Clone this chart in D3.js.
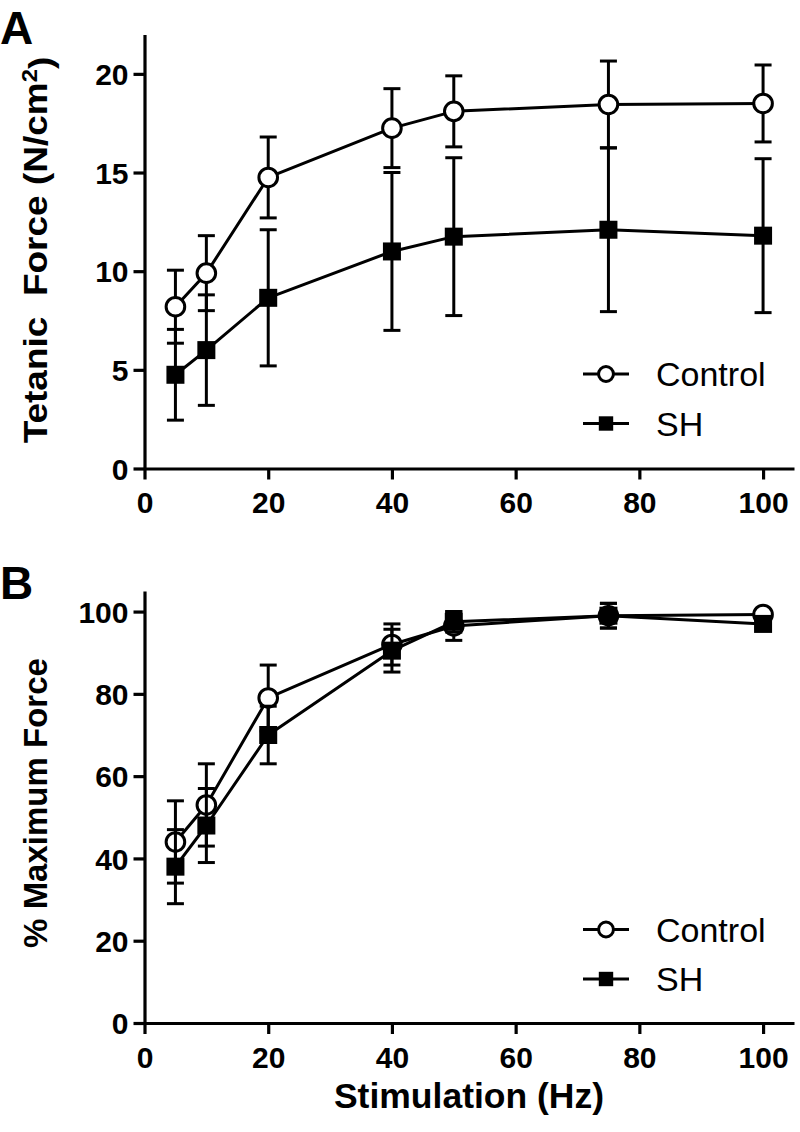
<!DOCTYPE html>
<html>
<head>
<meta charset="utf-8">
<script src="https://cdn.jsdelivr.net/npm/d3@7"></script>
<style>
  html, body { margin: 0; padding: 0; background: #fff; }
  svg { display: block; }
  text { font-family: "Liberation Sans", Arial, sans-serif; fill: #000; }
</style>
</head>
<body>
<svg id="chart" width="800" height="1132"></svg>
<script>
// ---- Data ----
const freq = [5, 10, 20, 40, 50, 75, 100];
const xTicks = [0, 20, 40, 60, 80, 100];

const forceControl = [8.2, 9.9, 14.75, 17.25, 18.1, 18.45, 18.5];
const forceControlErr = [1.85, 1.9, 2.05, 2.0, 1.8, 2.2, 1.95];
const forceSH = [4.75, 6.0, 8.65, 11.0, 11.75, 12.1, 11.8];
const forceSHErr = [2.3, 2.8, 3.45, 4.0, 4.0, 4.15, 3.9];
const forceTicks = [0, 5, 10, 15, 20];

const pctControl = [44, 53, 79, 92, 96.5, 99, 99.3];
const pctControlErr = [10, 10, 8, 5, 3.5, 3, 0.8];
const pctSH = [38, 48, 70, 90.5, 97.5, 99, 97];
const pctSHErr = [9, 9, 7, 5.2, 2.5, 3, 1];
const pctTicks = [0, 20, 40, 60, 80, 100];

const seriesNames = ["Control", "SH"];

// ---- Drawing ----
const svg = d3.select("#chart");
const x = d3.scaleLinear().domain([0, 105]).range([144.5, 794]);

function panel(cfg) {
  const y = d3.scaleLinear().domain(cfg.yDomain).range(cfg.yRange);
  const g = svg.append("g");

  // axes
  const yAxis = d3.axisLeft(y).tickValues(cfg.yTicks).tickSize(11).tickPadding(5).tickSizeOuter(0);
  const xAxis = d3.axisBottom(x).tickValues(xTicks).tickSize(11).tickPadding(6).tickSizeOuter(0);
  const gy = g.append("g").attr("transform", `translate(${x(0)},0)`).call(yAxis);
  const gx = g.append("g").attr("transform", `translate(0,${y(0)})`).call(xAxis);
  [gx, gy].forEach(a => {
    a.select(".domain").attr("stroke", "#000").attr("stroke-width", 3.2);
    a.selectAll(".tick line").attr("stroke", "#000").attr("stroke-width", 3.2);
    a.selectAll(".tick text").style("font-size", "30px").style("font-weight", "bold")
      .style("font-family", '"Liberation Sans", Arial, sans-serif').attr("fill", "#000");
  });
  gy.selectAll(".tick text").attr("dy", "0.36em");
  gx.selectAll(".tick text").attr("dy", "0.93em");

  const sets = [
    { name: seriesNames[0], mean: cfg.c, err: cfg.ce, shape: "circle" },
    { name: seriesNames[1], mean: cfg.s, err: cfg.se, shape: "square" }
  ];
  const line = d3.line().x(d => x(d.f)).y(d => y(d.v));

  sets.forEach(s => {
    const pts = freq.map((f, i) => ({ f, v: s.mean[i], e: s.err[i] }));
    // error bars
    const eb = g.append("g").attr("stroke", "#000").attr("stroke-width", 3);
    pts.forEach(p => {
      eb.append("line").attr("x1", x(p.f)).attr("x2", x(p.f))
        .attr("y1", y(p.v + p.e)).attr("y2", y(p.v - p.e));
      [p.v + p.e, p.v - p.e].forEach(v => {
        eb.append("line").attr("x1", x(p.f) - 8.5).attr("x2", x(p.f) + 8.5)
          .attr("y1", y(v)).attr("y2", y(v));
      });
    });
    // line
    g.append("path").datum(pts).attr("d", line).attr("fill", "none")
      .attr("stroke", "#000").attr("stroke-width", 3).attr("stroke-linejoin", "round");
    // markers
    pts.forEach(p => drawMarker(g, s.shape, x(p.f), y(p.v)));
  });

  // legend
  sets.forEach((s, i) => {
    const ly = cfg.legendY + i * 49.5;
    g.append("line").attr("x1", 583).attr("x2", 629).attr("y1", ly).attr("y2", ly)
      .attr("stroke", "#000").attr("stroke-width", 3);
    drawMarker(g, s.shape, 606, ly, 0.8);
    g.append("text").attr("x", 656).attr("y", ly).attr("dy", "0.36em")
      .style("font-size", "34px").text(s.name);
  });

  // panel letter
  svg.append("text").attr("x", 0).attr("y", cfg.letterY)
    .style("font-size", "46px").style("font-weight", "bold").text(cfg.letter);

  return y;
}

function drawMarker(g, shape, cx, cy, k = 1) {
  if (shape === "circle") {
    g.append("circle").attr("cx", cx).attr("cy", cy).attr("r", 9.3 * k)
      .attr("fill", "#fff").attr("stroke", "#000").attr("stroke-width", 3);
  } else {
    const h = 9 * k;
    g.append("rect").attr("x", cx - h).attr("y", cy - h).attr("width", 2 * h).attr("height", 2 * h)
      .attr("fill", "#000");
  }
}

panel({
  yDomain: [0, 22], yRange: [468.5, 34.4], yTicks: forceTicks,
  c: forceControl, ce: forceControlErr, s: forceSH, se: forceSHErr,
  legendY: 374, letter: "A", letterY: 44
});
panel({
  yDomain: [0, 105], yRange: [1023, 591], yTicks: pctTicks,
  c: pctControl, ce: pctControlErr, s: pctSH, se: pctSHErr,
  legendY: 929.5, letter: "B", letterY: 599
});

// axis titles
const tA = svg.append("text").attr("transform", "translate(47,250) rotate(-90) scale(1,0.9)")
  .attr("text-anchor", "middle").style("font-size", "37px").style("font-weight", "bold");
tA.append("tspan").text("Tetanic\u00a0 Force (N/cm");
tA.append("tspan").attr("dy", "-0.45em").style("font-size", "24px").text("2");
tA.append("tspan").attr("dy", "0.45em").text(")");

svg.append("text").attr("transform", "translate(47,803) rotate(-90)")
  .attr("text-anchor", "middle").style("font-size", "33px").style("font-weight", "bold")
  .text("% Maximum Force");

svg.append("text").attr("x", 469).attr("y", 1108).attr("text-anchor", "middle")
  .style("font-size", "35.5px").style("font-weight", "bold").text("Stimulation (Hz)");
</script>
</body>
</html>
